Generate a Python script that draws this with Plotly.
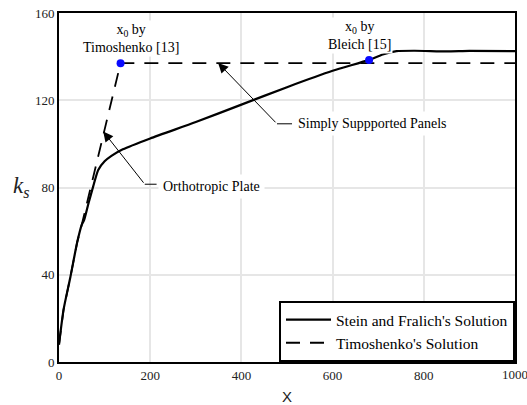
import plotly.graph_objects as go

# Stein and Fralich's solution
sf_x = [0, 10, 25, 40, 50, 55, 65, 75, 86, 100, 115, 140, 200, 300, 400, 500, 600, 680, 710, 740, 780, 850, 900, 1000]
sf_y = [8, 24, 39, 55, 63, 65, 73, 80.5, 88, 92, 94.5, 97.5, 102.5, 110, 118, 126, 133.5, 138.5, 141, 142.5, 142.7, 142.4, 142.6, 142.5]

# Timoshenko's solution
ti_x = [0, 10, 25, 40, 50, 135, 1000]
ti_y = [8, 24, 39, 55, 63, 137, 137]

# x0 points
x0_x = [135, 680]
x0_y = [137, 138.5]

x_ticks = [0, 200, 400, 600, 800, 1000]
y_ticks = [0, 40, 80, 120, 160]

SERIF = "Times New Roman, Liberation Serif, serif"

fig = go.Figure()
fig.add_trace(go.Scatter(x=sf_x, y=sf_y, mode="lines", name="Stein and Fralich's Solution",
                         line=dict(color="black", width=2.2, shape="spline", smoothing=0.6)))
fig.add_trace(go.Scatter(x=ti_x, y=ti_y, mode="lines", name="Timoshenko's Solution",
                         line=dict(color="black", width=1.8, dash="14px,10px")))
fig.add_trace(go.Scatter(x=x0_x, y=x0_y, mode="markers", showlegend=False,
                         marker=dict(color="#0a0aff", size=8)))

ann = []
ann.append(dict(x=157, y=148.5, xref="x", yref="y", text="x<sub>0</sub> by<br>Timoshenko [13]",
                showarrow=False, font=dict(family=SERIF, size=14, color="black"), bgcolor="white"))
ann.append(dict(x=659, y=149.5, xref="x", yref="y", text="x<sub>0</sub> by<br>Bleich [15]",
                showarrow=False, font=dict(family=SERIF, size=14, color="black"), bgcolor="white"))
ann.append(dict(x=216, y=80.5, xref="x", yref="y", text="Orthotropic Plate", xanchor="left",
                showarrow=False, font=dict(family=SERIF, size=14, color="black"), bgcolor="white", borderpad=4))
ann.append(dict(x=513, y=109.2, xref="x", yref="y", text="Simply Suppported Panels", xanchor="left",
                showarrow=False, font=dict(family=SERIF, size=14, color="black"), bgcolor="white", borderpad=4))
# arrows
ann.append(dict(x=97, y=105.7, ax=188, ay=81.5, xref="x", yref="y", axref="x", ayref="y", text="",
                showarrow=True, arrowhead=2, arrowsize=2, arrowwidth=1, arrowcolor="black"))
ann.append(dict(x=349, y=137.1, ax=478, ay=109.2, xref="x", yref="y", axref="x", ayref="y", text="",
                showarrow=True, arrowhead=2, arrowsize=2, arrowwidth=1, arrowcolor="black"))
# last x tick label (partly outside the page, as in the reference)
ann.append(dict(x=x_ticks[-1], y=0, xref="x", yref="paper", yshift=-3, text=str(x_ticks[-1]),
                yanchor="top", showarrow=False, font=dict(family=SERIF, size=13, color="#222")))
# y axis title
ann.append(dict(x=0, y=0.5, xref="paper", yref="paper", xshift=-48, yshift=1, text="<i>k<sub>s</sub></i>",
                showarrow=False, font=dict(family=SERIF, size=23, color="#222")))

shapes = [
    dict(type="line", xref="x", yref="y", x0=188, x1=214, y0=81.5, y1=81.5, line=dict(color="black", width=1)),
    dict(type="line", xref="x", yref="y", x0=478, x1=511, y0=109.2, y1=109.2, line=dict(color="black", width=1)),
]

fig.update_layout(
    width=527, height=405,
    margin=dict(l=59, r=12, t=13, b=43, autoexpand=False),
    paper_bgcolor="white", plot_bgcolor="white",
    annotations=ann, shapes=shapes,
    legend=dict(x=1, y=0, xanchor="right", yanchor="bottom", bgcolor="white",
                bordercolor="black", borderwidth=2,
                font=dict(family=SERIF, size=15.5, color="black"),
                tracegroupgap=0, itemwidth=45),
    font=dict(family=SERIF, color="#222"),
)
fig.update_xaxes(range=[0, 1000], tickvals=x_ticks[:-1], automargin=False,
                 showgrid=True, gridcolor="#e6e6e6", gridwidth=1.5, zeroline=False,
                 showline=True, linecolor="black", linewidth=2, mirror=True,
                 tickfont=dict(family=SERIF, size=13, color="#222"),
                 title=dict(text="X", font=dict(family="Liberation Sans", size=15, color="#222"), standoff=10))
fig.update_yaxes(range=[0, 160], tickvals=y_ticks, automargin=False,
                 showgrid=True, gridcolor="#e6e6e6", gridwidth=1.5, zeroline=False,
                 showline=True, linecolor="black", linewidth=2, mirror=True,
                 tickfont=dict(family=SERIF, size=13, color="#222"))

fig.write_html("out.html", config={"displayModeBar": False},
               post_script="document.body.style.margin='0px';document.body.style.overflow='hidden';")
